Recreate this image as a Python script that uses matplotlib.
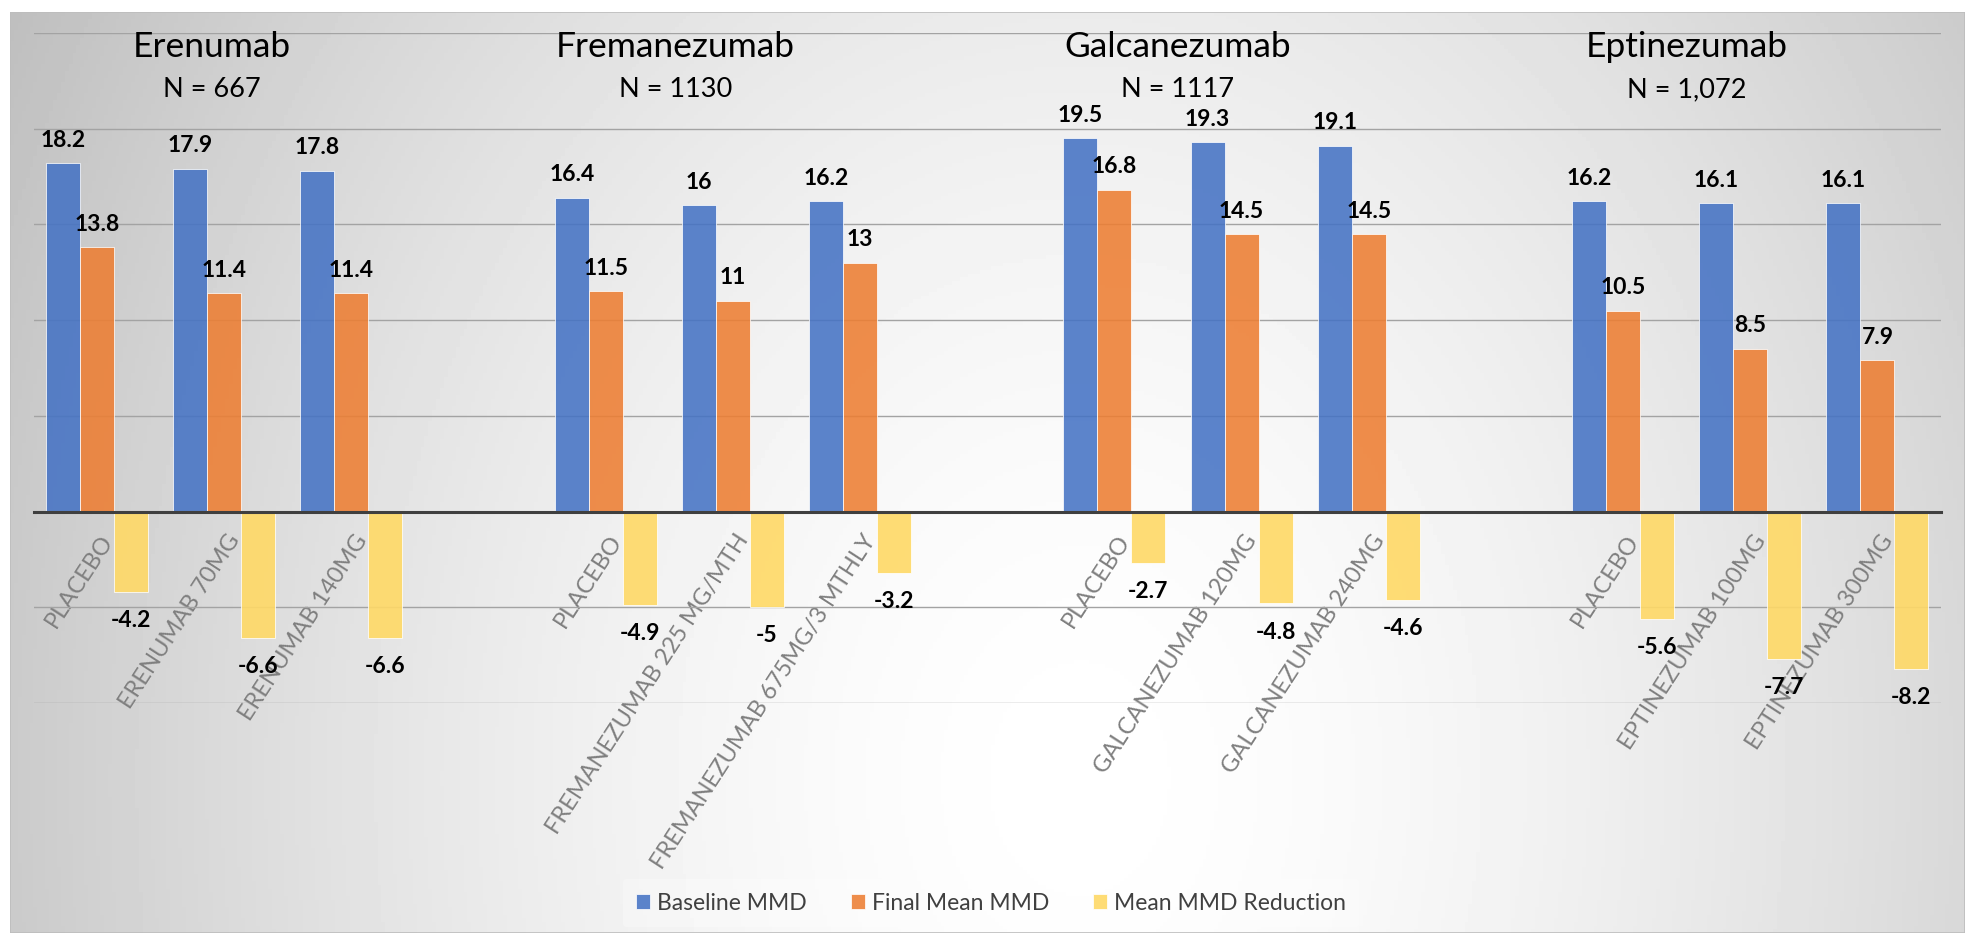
import matplotlib.pyplot as plt
import numpy as np
from matplotlib.patches import Rectangle
from matplotlib.transforms import ScaledTranslation

plt.rcParams['font.family'] = ['Lato', 'DejaVu Sans']

# data
drugs = ["Erenumab", "Fremanezumab", "Galcanezumab", "Eptinezumab"]
n_text = ["N = 667", "N = 1130", "N = 1117", "N = 1,072"]
doses = [
    ["PLACEBO", "ERENUMAB 70MG", "ERENUMAB 140MG"],
    ["PLACEBO", "FREMANEZUMAB 225 MG/MTH", "FREMANEZUMAB 675MG/3 MTHLY"],
    ["PLACEBO", "GALCANEZUMAB 120MG", "GALCANEZUMAB 240MG"],
    ["PLACEBO", "EPTINEZUMAB 100MG", "EPTINEZUMAB 300MG"],
]
baseline = [18.2, 17.9, 17.8, 16.4, 16, 16.2, 19.5, 19.3, 19.1, 16.2, 16.1, 16.1]
final = [13.8, 11.4, 11.4, 11.5, 11, 13, 16.8, 14.5, 14.5, 10.5, 8.5, 7.9]
reduction = [-4.2, -6.6, -6.6, -4.9, -5, -3.2, -2.7, -4.8, -4.6, -5.6, -7.7, -8.2]

W, H = 1970, 933
fig = plt.figure(figsize=(W / 100, H / 100), dpi=100)

# radial grey background of the chart area
bg = fig.add_axes([10 / W, 0, 1955 / W, 921 / H], zorder=0)
xx, yy = np.meshgrid(np.linspace(10, 1965, 500), np.linspace(12, 933, 250))
r = np.sqrt(((xx - 1080) / 1150) ** 2 + ((yy - 780) / 1500) ** 2)
shade = 1 - 0.23 * np.clip(r, 0, 1.2) ** 1.6
bg.imshow(shade, cmap='gray', vmin=0, vmax=1, aspect='auto',
          extent=(0, 1, 0, 1), origin='upper')
bg.add_patch(Rectangle((0, 0), 1, 1, transform=bg.transAxes, fill=False,
                       ec='#bdbdbd', lw=1.2))
bg.set_axis_off()

ax = fig.add_axes([33.5 / W, 1 - 703 / H, (1941 - 33.5) / W, 670 / H], zorder=1)
ax.patch.set_alpha(0)

pos = np.array([g * 4 + j for g in range(4) for j in range(3)])
labels = [d for grp in doses for d in grp]
w = 0.267

b1 = ax.bar(pos - w, baseline, w, color='#4472C4', alpha=0.87, ec='white',
            lw=0.6, label='Baseline MMD', zorder=3)
b2 = ax.bar(pos, final, w, color='#ED7D31', alpha=0.87, ec='white',
            lw=0.6, label='Final Mean MMD', zorder=3)
b3 = ax.bar(pos + w, reduction, w, color='#FFD966', alpha=0.9, ec='white',
            lw=0.6, label='Mean MMD Reduction', zorder=3)

for bars, pad in ((b1, 9), (b2, 9), (b3, 13)):
    ax.bar_label(bars, fmt='%g', padding=pad, fontsize=16.5, fontweight='bold',
                 color='black')

ax.set_xlim(-0.5, 14.5)
ax.set_ylim(-10, 25)
ax.set_yticks(range(-10, 26, 5))
ax.set_yticklabels([])
ax.tick_params(axis='y', length=0)
ax.yaxis.grid(True, color='#a3a3a3', lw=1.0, zorder=1)
ax.set_axisbelow(True)

for s in ('top', 'right', 'left'):
    ax.spines[s].set_visible(False)
ax.spines['bottom'].set_position(('data', 0))
ax.spines['bottom'].set_color('#3f3f3f')
ax.spines['bottom'].set_linewidth(2.2)
ax.spines['bottom'].set_zorder(4)

ax.set_xticks(pos)
ax.set_xticklabels(labels, rotation=57, ha='right', va='center',
                   rotation_mode='anchor', color='#7f7f7f', fontsize=17)
ax.tick_params(axis='x', length=0, pad=0)
offset = ScaledTranslation(11 / 100, -25 / 100, fig.dpi_scale_trans)
for t in ax.xaxis.get_major_ticks():
    t.label1.set_transform(t.label1.get_transform() + offset)

title_x = [0.9, 4.55, 8.5, 12.5]
for x, name, n in zip(title_x, drugs, n_text):
    ax.text(x, 23.75, name, ha='center', va='baseline', fontsize=25.5, color='black')
    ax.text(x, 21.66, n, ha='center', va='baseline', fontsize=19.5, color='black')

leg = ax.legend(loc='center', bbox_to_anchor=(991 / W, 1 - 903 / H),
                bbox_transform=fig.transFigure, ncol=3, fontsize=16.5,
                handlelength=0.62, handleheight=0.62, handletextpad=0.3,
                columnspacing=1.9, borderpad=0.6, frameon=True)
leg.get_frame().set_facecolor('white')
leg.get_frame().set_alpha(0.3)
leg.get_frame().set_edgecolor('none')
for t in leg.get_texts():
    t.set_color('#404040')

fig.savefig('out.png', dpi=100)
